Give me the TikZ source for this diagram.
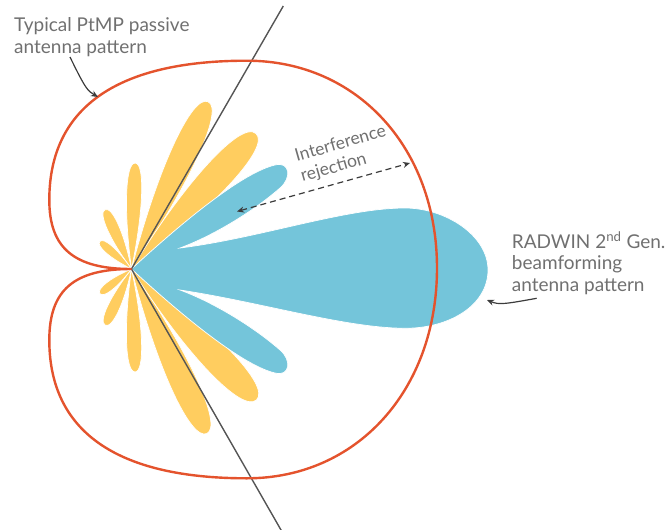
\documentclass[tikz,border=0pt]{standalone}
\usepackage{fontspec}
\setmainfont{Lato}
\usetikzlibrary{arrows.meta}

\definecolor{lobeyellow}{RGB}{255,205,95}
\definecolor{beamblue}{RGB}{116,197,218}
\definecolor{passivered}{RGB}{228,83,45}
\definecolor{axisgrey}{RGB}{85,85,85}
\definecolor{labelgrey}{RGB}{112,112,112}
\definecolor{arrowgrey}{RGB}{60,60,60}

\tikzset{
  >={Stealth[length=7pt,width=6pt]},
  lobe/.style={fill=lobeyellow, draw=white, line width=0.7pt},
  beam/.style={fill=beamblue, draw=white, line width=0.7pt},
  passive/.style={draw=passivered, line width=2.4pt, line join=round},
  sector/.style={draw=axisgrey, line width=1.4pt},
  callout/.style={draw=arrowgrey, line width=1.2pt, ->},
  label/.style={text=labelgrey, font=\fontsize{19}{21.7}\selectfont, inner sep=0pt, align=left},
}

% one side lobe of the passive pattern: angle, length, half-width
\newcommand\sidelobe[3]{%
  \path[lobe, shift={(O)}, rotate=#1]
    (0,0) .. controls (0.55*#2, 1.33*#3) and (#2, 1.33*#3) .. (#2,0)
          .. controls (#2,-1.33*#3) and (0.55*#2,-1.33*#3) .. (0,0) -- cycle;}

\begin{document}
\begin{tikzpicture}[x=1pt, y=-1pt]
\useasboundingbox (0,0) rectangle (670,530);
\coordinate (O) at (131.5,269);

% passive side lobes
\sidelobe{65.4}{184}{13.5}
\sidelobe{47.4}{184}{15}
\sidelobe{88}{106}{7.5}
\sidelobe{114}{65}{6}
\sidelobe{139}{42}{4.5}
\sidelobe{-65.4}{181}{13.5}
\sidelobe{-46.3}{181}{15}
\sidelobe{-88}{103}{7.5}
\sidelobe{-115}{62}{6}
\sidelobe{-142}{40}{4.5}

% beamforming pattern: upper side lobe, main beam, lower side lobe
\path[beam] (O)
  .. controls (190,215) and (245,172) .. (275,165)
  .. controls (290,161) and (292,178) .. (280,188)
  .. controls (255,210) and (215,235) .. (180,248)
  .. controls (260,238) and (345,208) .. (405,208)
  .. controls (445,208) and (488,235) .. (488,270)
  .. controls (488,305) and (450,328.3) .. (405,328.3)
  .. controls (345,328) and (260,302) .. (180,290)
  .. controls (215,303) and (255,328) .. (280,350)
  .. controls (292,360) and (290,377) .. (275,373)
  .. controls (245,366) and (190,323) .. (O)
  -- cycle;

% sector edges
\coordinate (secTop) at (283.3,6);
\coordinate (secBot) at (283.3,534);
\draw[sector] (O) -- (secTop);
\draw[sector] (O) -- (secBot);

% passive antenna pattern outline
\draw[passive] (O)
  .. controls (74,269) and (49.3,248) .. (49.3,200)
  .. controls (49.3,116.4) and (105,60.7) .. (247,60.7)
  .. controls (357,60.7) and (437,148) .. (437,268)
  .. controls (437,390) and (357,478.3) .. (247,478.3)
  .. controls (105,478.3) and (49.3,423) .. (49.3,340)
  .. controls (49.3,290) and (74,269) .. (O);

% labels
\node[label, anchor=base west] (ptmp) at (14,53.5) {Typical PtMP passive\\antenna pattern};
\node[label, anchor=base west, rotate=16, font=\fontsize{17.5}{21}\selectfont] (rej) at (302.5,182) {Interference\\rejection};
\node[label, anchor=base west] (radwin) at (511.7,291.5) {RADWIN 2\textsuperscript{nd} Gen.\\beamforming\\antenna pattern};

% callouts
\coordinate (ptmpFrom) at (70,57);
\coordinate (ptmpTo) at (98,97);
\draw[callout] (ptmpFrom) .. controls (86,90) and (88,91) .. (ptmpTo);

\coordinate (radFrom) at (536.7,298.3);
\coordinate (radTo) at (487,300);
\draw[callout] (radFrom) .. controls (505,304) and (499,305) .. (radTo);

\coordinate (rejIn) at (237,211.5);
\coordinate (rejOut) at (410,163);
\draw[callout, dash pattern=on 6pt off 4pt, <->] (rejIn) -- (rejOut);
\end{tikzpicture}
\end{document}
